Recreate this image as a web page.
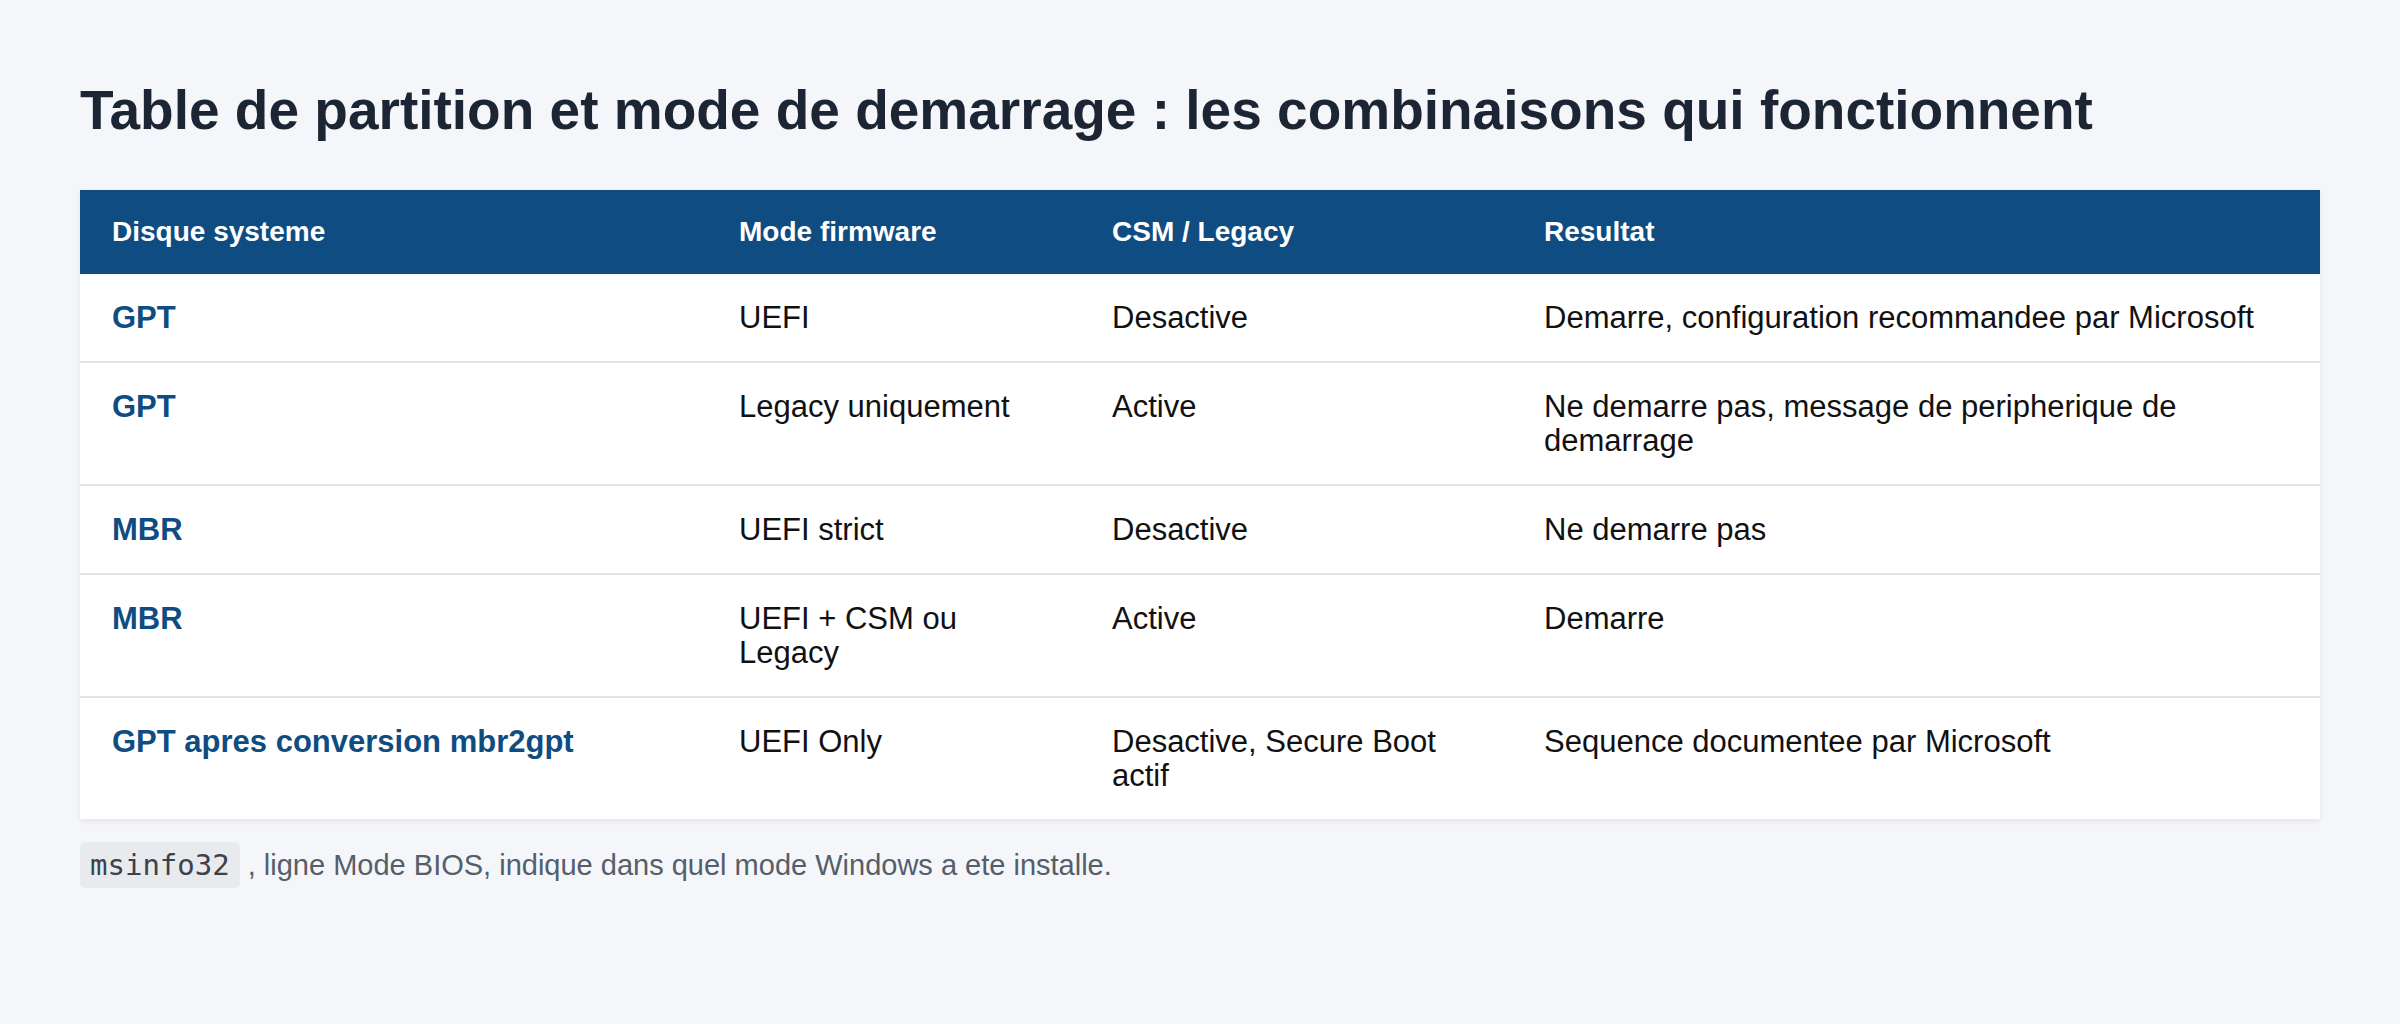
<!DOCTYPE html>
<html>
<head>
<meta charset="utf-8">
<script src="https://cdn.jsdelivr.net/npm/chart.js@4"></script>
<style>
  body { margin: 0; background: #f4f6f9; font-family: "Liberation Sans", Arial, sans-serif; width: 2400px; height: 1024px; }
  h1 { position: absolute; left: 80px; top: 78px; margin: 0; font-size: 55px; font-weight: bold; color: #1b2533; }
  table { position: absolute; left: 80px; top: 190px; width: 2240px; border-collapse: collapse; background: #fff; box-shadow: 0 2px 6px rgba(0,0,0,0.08); table-layout: fixed; }
  th { background: #0f4c81; color: #fff; font-size: 28px; font-weight: bold; text-align: left; height: 84px; padding: 0 32px; }
  td { font-size: 31px; line-height: 34px; color: #111; vertical-align: top; padding: 27px 32px 26px; border-top: 2px solid #e2e4e8; }
  td.key { color: #0f4c81; font-weight: bold; }
  tr:nth-child(1) td { border-top: none; }
  p.note { position: absolute; left: 80px; top: 848px; margin: 0; font-size: 29px; color: #555e6b; }
  code { font-family: "DejaVu Sans Mono", monospace; font-size: 29px; background: #e8eaee; color: #3a424d; padding: 6px 10px; border-radius: 5px; }
</style>
</head>
<body>
<h1 id="title"></h1>
<table id="tbl">
  <colgroup><col style="width:627px"><col style="width:373px"><col style="width:432px"><col style="width:808px"></colgroup>
  <thead><tr id="head"></tr></thead>
  <tbody id="body"></tbody>
</table>
<p class="note"><code>msinfo32</code> , ligne Mode BIOS, indique dans quel mode Windows a ete installe.</p>
<script>
let title = 'Table de partition et mode de demarrage : les combinaisons qui fonctionnent';
let columns = ['Disque systeme', 'Mode firmware', 'CSM / Legacy', 'Resultat'];
let disks = ['GPT', 'GPT', 'MBR', 'MBR', 'GPT apres conversion mbr2gpt'];
let firmware = ['UEFI', 'Legacy uniquement', 'UEFI strict', 'UEFI + CSM ou Legacy', 'UEFI Only'];
let csm = ['Desactive', 'Active', 'Desactive', 'Active', 'Desactive, Secure Boot actif'];
let results = [
  'Demarre, configuration recommandee par Microsoft',
  'Ne demarre pas, message de peripherique de demarrage',
  'Ne demarre pas',
  'Demarre',
  'Sequence documentee par Microsoft',
];

document.getElementById('title').textContent = title;
let head = document.getElementById('head');
columns.forEach((c) => {
  let th = document.createElement('th');
  th.textContent = c;
  head.appendChild(th);
});
let body = document.getElementById('body');
disks.forEach((d, i) => {
  let tr = document.createElement('tr');
  [d, firmware[i], csm[i], results[i]].forEach((v, j) => {
    let td = document.createElement('td');
    td.textContent = v;
    if (j === 0) td.className = 'key';
    tr.appendChild(td);
  });
  body.appendChild(tr);
});
</script>
</body>
</html>
